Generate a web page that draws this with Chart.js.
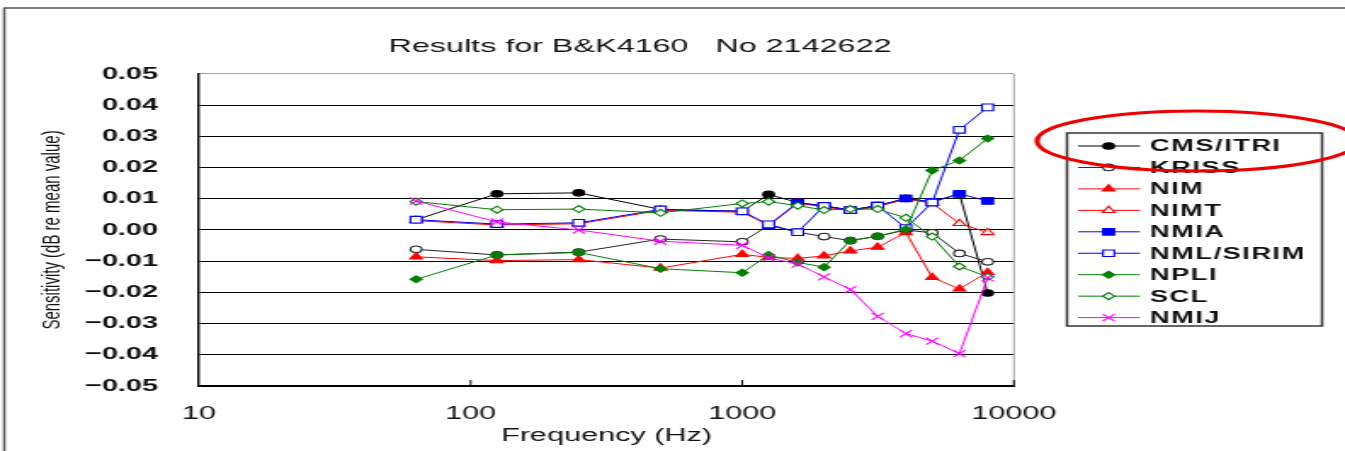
<!DOCTYPE html>
<html>
<head>
<meta charset="utf-8">
<script src="https://cdn.jsdelivr.net/npm/chart.js@4/dist/chart.umd.min.js"></script>
<style>
  html, body { margin: 0; padding: 0; background: #fff; overflow: hidden; }
  /* the reference picture is stretched sideways, so the chart is drawn narrow and widened */
  #wrap { position: absolute; left: 0; top: 0; width: 791px; height: 451px;
          transform: scaleX(1.70038); transform-origin: 0 0; }
</style>
</head>
<body>
<div id="wrap"><canvas id="myChart" width="791" height="451"></canvas></div>
<script>
// frequencies (Hz)
const freqs = [63, 125, 250, 500, 1000, 1250, 1600, 2000, 2500, 3150, 4000, 5000, 6300, 8000];

// sensitivity, dB re mean value
const cmsItri = [0.0033, 0.0116, 0.0119, 0.0066, 0.0060, 0.0114, 0.0088, 0.0077, 0.0064, 0.0078, 0.0101, 0.0090, 0.0116, -0.0202];
const kriss   = [-0.0062, -0.0080, -0.0071, -0.0029, -0.0038, 0.0015, -0.0007, -0.0021, -0.0034, -0.0020, 0.0000, -0.0009, -0.0075, -0.0102];
const nim     = [-0.0086, -0.0098, -0.0095, -0.0122, -0.0078, -0.0088, -0.0091, -0.0083, -0.0067, -0.0055, -0.0008, -0.0152, -0.0189, -0.0136];
const nimt    = [0.0030, 0.0016, 0.0020, 0.0063, 0.0057, 0.0014, 0.0086, 0.0074, 0.0061, 0.0075, 0.0099, 0.0086, 0.0021, -0.0008];
const nmia    = [null, null, null, null, null, 0.0016, 0.0088, 0.0077, 0.0064, 0.0078, 0.0101, 0.0090, 0.0116, 0.0093];
const nmlSirim= [0.0033, 0.0019, 0.0023, 0.0066, 0.0060, 0.0018, -0.0007, 0.0077, 0.0064, 0.0078, 0.0006, 0.0088, 0.0321, 0.0393];
const npli    = [-0.0158, -0.0080, -0.0072, -0.0124, -0.0137, -0.0080, -0.0104, -0.0119, -0.0034, -0.0020, 0.0002, 0.0191, 0.0223, 0.0293];
const scl     = [0.0091, 0.0065, 0.0067, 0.0055, 0.0085, 0.0091, 0.0078, 0.0064, 0.0067, 0.0067, 0.0039, -0.0021, -0.0117, -0.0150];
const nmij    = [0.0093, 0.0026, 0.0000, -0.0036, -0.0049, -0.0089, -0.0109, -0.0150, -0.0191, -0.0277, -0.0332, -0.0356, -0.0396, -0.0153];

// axis ticks
const xTicks = [10, 100, 1000, 10000];
const yTicks = [-0.05, -0.04, -0.03, -0.02, -0.01, 0, 0.01, 0.02, 0.03, 0.04, 0.05];

const titleText = 'Results for B&K4160   No 2142622';

function pts(vals) {
  return freqs.map((f, i) => ({x: f, y: vals[i]})).filter(p => p.y !== null);
}

function series(label, vals, color, style, radius, filled) {
  return {
    label: label,
    data: pts(vals),
    borderColor: color,
    backgroundColor: filled ? color : '#fff',
    pointStyle: style,
    pointRadius: radius,
    pointHoverRadius: radius,
    pointBorderWidth: 1.1,
    borderWidth: 1,
    fill: false,
    tension: 0
  };
}

const datasets = [
  series('CMS/ITRI', cmsItri, '#000000', 'circle', 3.3, true),
  series('KRISS', kriss, '#222222', 'circle', 3.3, false),
  series('NIM', nim, '#ff0000', 'triangle', 4.2, true),
  series('NIMT', nimt, '#ff0000', 'triangle', 4.2, false),
  series('NMIA', nmia, '#0000ff', 'rect', 4.7, true),
  series('NML/SIRIM', nmlSirim, '#0000ff', 'rect', 4.7, false),
  series('NPLI', npli, '#008000', 'rectRot', 3.5, true),
  series('SCL', scl, '#008000', 'rectRot', 3.5, false),
  series('NMIJ', nmij, '#ff00ff', 'crossRot', 5, false)
];
// later series sit on top, like the original
datasets.forEach((d, i) => { d.order = datasets.length - i; });

const decor = {
  id: 'decor',
  beforeDraw(chart) {
    const ctx = chart.ctx;
    ctx.save();
    ctx.strokeStyle = '#555';
    ctx.lineWidth = 1.5;
    ctx.beginPath();
    ctx.moveTo(2.5, 451);
    ctx.lineTo(2.5, 8);
    ctx.lineTo(791, 8);
    ctx.stroke();
    ctx.restore();
  },
  afterDraw(chart) {
    const ctx = chart.ctx;
    const a = chart.chartArea;
    const xs = chart.scales.x;
    ctx.save();
    // grey right edge of the plot
    ctx.strokeStyle = '#a0a0a0';
    ctx.lineWidth = 1;
    ctx.beginPath();
    ctx.moveTo(a.right, a.top);
    ctx.lineTo(a.right, a.bottom);
    ctx.stroke();
    // small inside tick marks on the frequency axis
    ctx.strokeStyle = '#000';
    ctx.lineWidth = 1;
    xTicks.slice(1).forEach(v => {
      const px = xs.getPixelForValue(v);
      ctx.beginPath();
      ctx.moveTo(px, a.bottom);
      ctx.lineTo(px, a.bottom - 6);
      ctx.stroke();
    });
    // title
    ctx.fillStyle = '#111';
    ctx.font = '19px "Liberation Sans", Arial, sans-serif';
    ctx.textAlign = 'center';
    ctx.textBaseline = 'middle';
    ctx.fillText(titleText, 376.4, 47);

    // legend box
    ctx.strokeStyle = '#333';
    ctx.lineWidth = 1.5;
    ctx.strokeRect(627.5, 133, 150, 193);
    ctx.textAlign = 'left';
    ctx.font = 'bold 16px "Liberation Sans", Arial, sans-serif';
    try { ctx.letterSpacing = '0.9px'; } catch (e) {}
    chart.data.datasets.forEach((d, i) => {
      const y = 146 + i * 21.45;
      ctx.strokeStyle = d.borderColor;
      ctx.lineWidth = 1;
      ctx.beginPath();
      ctx.moveTo(634, y);
      ctx.lineTo(670.4, y);
      ctx.stroke();
      ctx.fillStyle = d.backgroundColor;
      ctx.strokeStyle = d.borderColor;
      ctx.lineWidth = d.pointBorderWidth;
      Chart.helpers.drawPoint(ctx, {pointStyle: d.pointStyle, radius: d.pointRadius, rotation: 0, borderWidth: d.pointBorderWidth}, 652, y);
      ctx.fillStyle = '#111';
      ctx.fillText(d.label, 676.3, y + 1);
    });
    try { ctx.letterSpacing = '0px'; } catch (e) {}

    // red highlight ring around the first legend entry
    ctx.strokeStyle = '#ee0000';
    ctx.lineWidth = 3;
    ctx.beginPath();
    ctx.ellipse(704, 141, 94.1, 30, 0, 0, Math.PI * 2);
    ctx.stroke();
    ctx.restore();
  }
};

Chart.defaults.font.family = '"Liberation Sans", Arial, sans-serif';
Chart.defaults.color = '#111';

const ctx = document.getElementById('myChart');

new Chart(ctx, {
  type: 'line',
  data: { datasets: datasets },
  options: {
    responsive: false,
    animation: false,
    events: [],
    layout: { padding: { top: 74, right: 194.7, left: 0, bottom: 0 } },
    plugins: {
      legend: { display: false },
      title: { display: false },
      tooltip: { enabled: false }
    },
    scales: {
      x: {
        type: 'logarithmic',
        min: 10,
        max: 10000,
        afterBuildTicks: s => { s.ticks = xTicks.map(v => ({value: v})); },
        afterFit: s => { s.height = 65; },
        grid: { display: false },
        border: { display: true, color: '#000', width: 2 },
        ticks: {
          autoSkip: false,
          maxRotation: 0,
          padding: 9,
          color: '#111',
          font: { size: 18 },
          callback: v => String(v)
        },
        title: {
          display: true,
          text: 'Frequency (Hz)',
          color: '#111',
          font: { size: 18 },
          padding: { top: 0, bottom: 4 }
        }
      },
      y: {
        type: 'linear',
        min: -0.05,
        max: 0.05,
        afterBuildTicks: s => { s.ticks = yTicks.map(v => ({value: v})); },
        afterFit: s => { s.width = 117; },
        grid: {
          drawTicks: false,
          color: c => (c.tick && c.tick.value > 0.049) ? '#a0a0a0' : '#000',
          lineWidth: 1.1
        },
        border: { display: true, color: '#000', width: 1.4 },
        ticks: {
          padding: 24,
          color: '#111',
          font: { size: 17, weight: 'bold' },
          callback: v => (v < -1e-9 ? '\u2212' + Math.abs(v).toFixed(2) : Math.abs(v).toFixed(2))
        },
        title: {
          display: true,
          text: 'Sensitivity (dB re mean value)',
          color: '#111',
          font: { size: 15 },
          padding: { top: 22, bottom: 0 }
        }
      }
    }
  },
  plugins: [decor]
});
</script>
</body>
</html>
